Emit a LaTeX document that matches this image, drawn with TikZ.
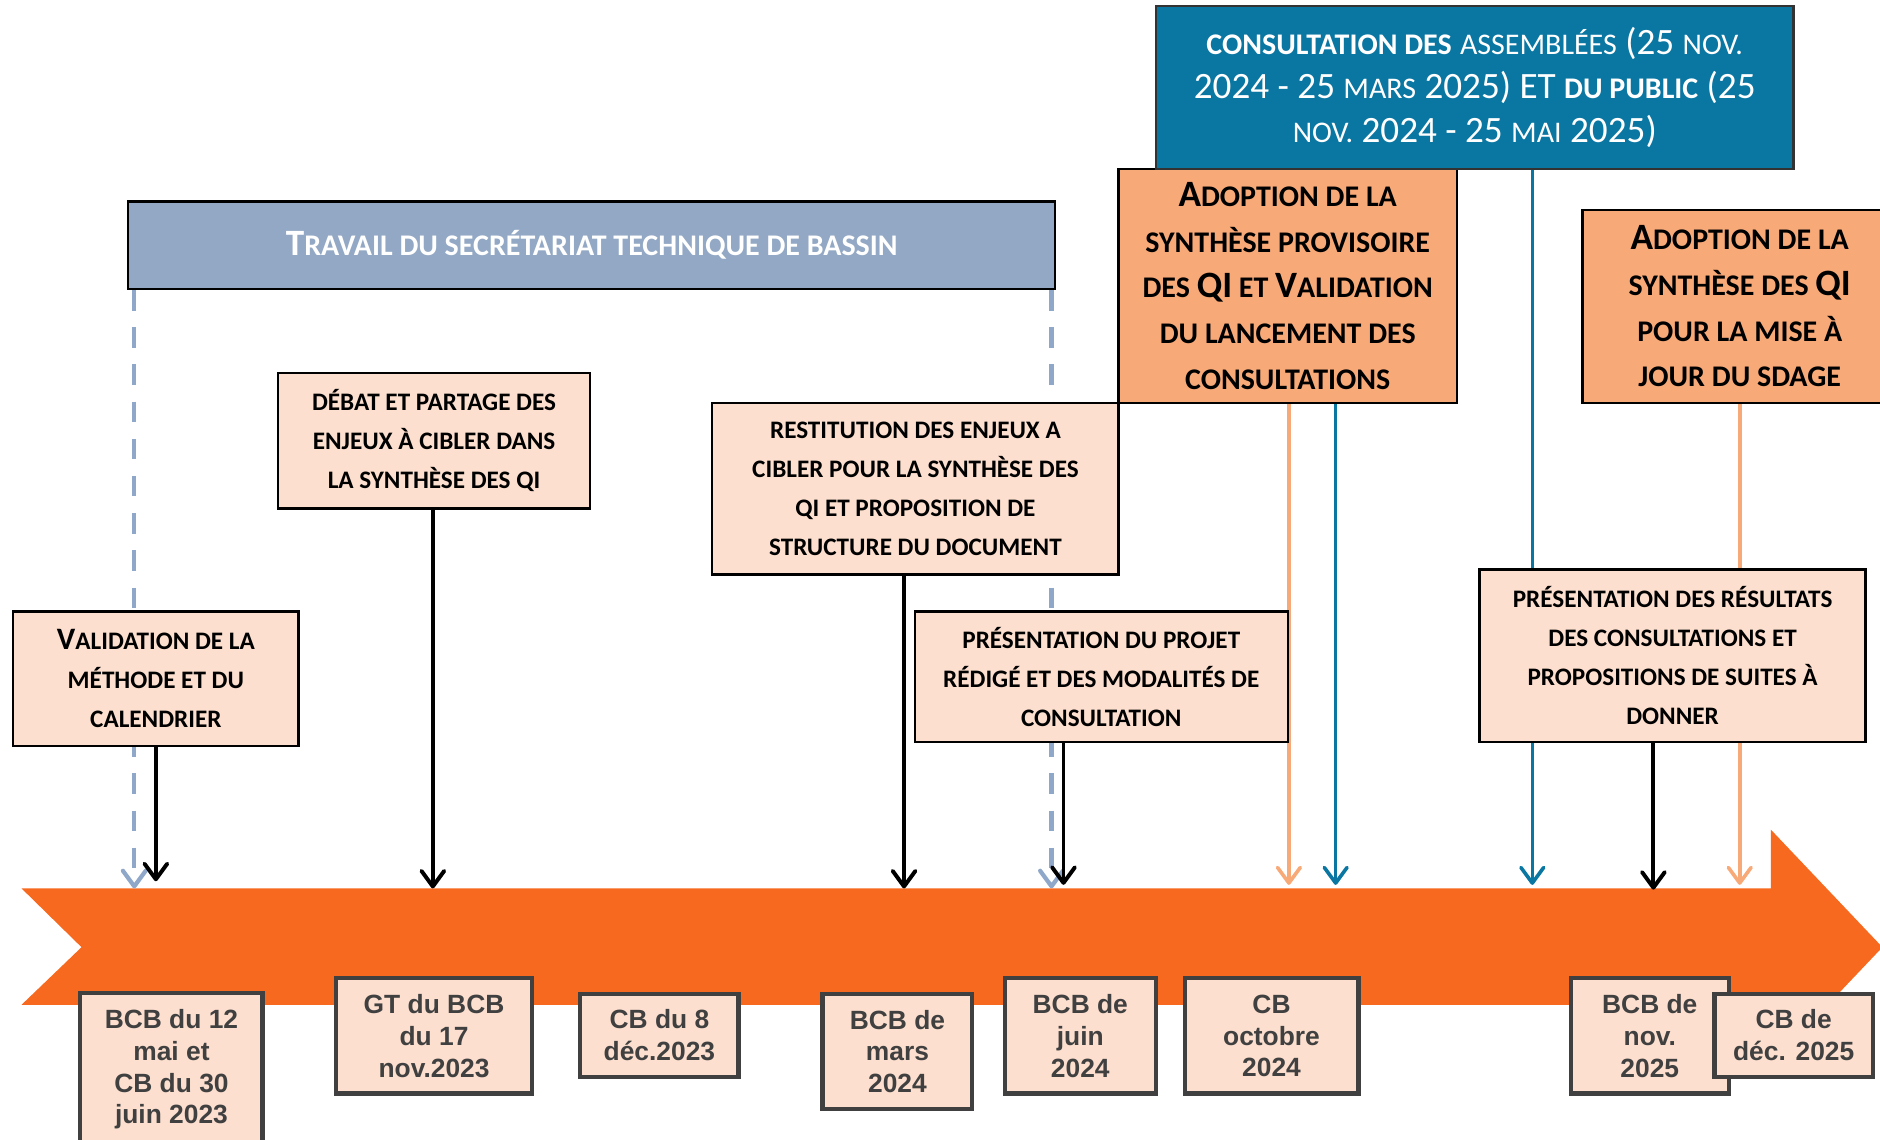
\documentclass[tikz,border=0pt]{standalone}
\usepackage{fontspec}
\setmainfont{Carlito}
\newfontfamily\arialf{Liberation Sans}
\usetikzlibrary{arrows.meta}
\definecolor{peach}{HTML}{FCDFCF}
\definecolor{salmon}{HTML}{F8A978}
\definecolor{tlorange}{HTML}{F7691E}
\definecolor{consblue}{HTML}{0A76A2}
\definecolor{travblue}{HTML}{93A8C4}
\definecolor{dashblue}{HTML}{8FA8CA}
\definecolor{boxgray}{HTML}{404040}
\pgfdeclarelayer{bgzero}
\pgfdeclarelayer{bgone}
\pgfsetlayers{bgzero,bgone,main}
\newcommand\fz[2]{{\fontsize{#1}{#1}\selectfont #2}}
\tikzset{
  peachbox/.style={draw=black, line width=2pt, fill=peach, align=center, inner sep=0pt,
    font=\bfseries\fontsize{21}{32.5}\selectfont},
  adoptbox/.style={draw=black, line width=2pt, fill=salmon, align=center, inner sep=0pt,
    font=\bfseries\fontsize{25}{38}\selectfont},
  travbox/.style={draw=black, line width=2pt, fill=travblue, align=center, inner sep=0pt,
    text=white, font=\bfseries\fontsize{25}{30}\selectfont},
  consbox/.style={draw=black!80, line width=2pt, fill=consblue, align=center, inner sep=0pt,
    text=white, font=\fontsize{31}{36.5}\selectfont},
  datebox/.style={draw=boxgray, line width=3.5pt, fill=peach, align=center, inner sep=0pt,
    text=boxgray, font=\arialf\bfseries\fontsize{22}{26.5}\selectfont},
  arr/.style={line width=3.3pt, -{Straight Barb[length=13pt,width=19pt,round]}},
  carr/.style={line width=3pt, -{Straight Barb[length=13pt,width=19pt,round]}},
  dasharr/.style={dashblue, line width=3.5pt, dash pattern=on 17pt off 14pt,
    -{Straight Barb[length=13pt,width=19pt,round]}},
}
\begin{document}
\begin{tikzpicture}[x=1pt,y=-1pt]
\useasboundingbox (0,0) rectangle (1568,950);
% timeline arrow
\begin{pgfonlayer}{bgzero}
\fill[tlorange] (18,741) -- (1477,741) -- (1477,692) -- (1570,790) -- (1477,888)
  -- (1477,838) -- (18,838) -- (68,790) -- cycle;
\end{pgfonlayer}
% top boxes
\node[adoptbox, minimum width=282pt, minimum height=195pt] (ad1) at (1074,238.5)
  {\fz{31}{A}DOPTION DE LA\\SYNTHÈSE PROVISOIRE\\DES \fz{31}{QI} ET \fz{31}{V}ALIDATION\\DU LANCEMENT DES\\CONSULTATIONS};
\node[consbox, minimum width=532pt, minimum height=136pt] (cons) at (1230,73)
  {\textbf{\fz{25}{CONSULTATION DES}} \fz{25}{ASSEMBLÉES} (25 \fz{25}{NOV.}\\
   2024 - 25 \fz{25}{MARS} 2025) ET \textbf{\fz{25}{DU PUBLIC}} (25\\
   \fz{25}{NOV.} 2024 - 25 \fz{25}{MAI} 2025)};
\node[adoptbox, minimum width=262pt, minimum height=161pt] (ad2) at (1451,255.5)
  {\fz{31}{A}DOPTION DE LA\\SYNTHÈSE DES \fz{31}{QI}\\POUR LA MISE À\\JOUR DU SDAGE};
\node[travbox, minimum width=773pt, minimum height=73pt] (trav) at (493.5,204.5)
  {\fz{31}{T}RAVAIL DU SECRÉTARIAT TECHNIQUE DE BASSIN};
\node[peachbox, minimum width=238pt, minimum height=112pt] (valid) at (130,566)
  {\fz{26}{V}ALIDATION DE LA\\MÉTHODE ET DU\\CALENDRIER};
\node[peachbox, minimum width=260pt, minimum height=113pt] (debat) at (362,367.5)
  {DÉBAT ET PARTAGE DES\\ENJEUX À CIBLER DANS\\LA SYNTHÈSE DES QI};
\node[peachbox, minimum width=339pt, minimum height=143pt] (resti) at (763.5,407.5)
  {RESTITUTION DES ENJEUX A\\CIBLER POUR LA SYNTHÈSE DES\\QI ET PROPOSITION DE\\STRUCTURE DU DOCUMENT};
\node[peachbox, minimum width=311pt, minimum height=109pt] (pproj) at (918.5,564.5)
  {PRÉSENTATION DU PROJET\\RÉDIGÉ ET DES MODALITÉS DE\\CONSULTATION};
\node[peachbox, minimum width=322pt, minimum height=144pt] (pres) at (1395,547)
  {PRÉSENTATION DES RÉSULTATS\\DES CONSULTATIONS ET\\PROPOSITIONS DE SUITES À\\DONNER};
% date boxes
\node[datebox, minimum width=152pt, minimum height=128pt] (b1) at (143,892)
  {BCB du 12\\mai et\\CB du 30\\juin 2023};
\node[datebox, minimum width=164pt, minimum height=96pt] (b2) at (362,864)
  {GT du BCB\\du 17\\nov.2023};
\node[datebox, minimum width=132pt, minimum height=69pt] (b3) at (550,863.5)
  {CB du 8\\déc.2023};
\node[datebox, minimum width=125pt, minimum height=96pt] (b4) at (748.5,877)
  {BCB de\\mars\\2024};
\node[datebox, minimum width=126pt, minimum height=96pt] (b5) at (901,864)
  {BCB de\\juin\\2024};
\node[datebox, minimum width=145pt, minimum height=96pt] (b6) at (1060.5,864)
  {CB\\octobre\\2024};
\node[datebox, minimum width=132pt, minimum height=96pt] (b7) at (1376,864)
  {BCB de\\nov.\\2025};
\node[datebox, minimum width=132pt, minimum height=69pt] (b8) at (1496,863.5)
  {CB de\\déc. 2025};
% timeline anchor points
\coordinate (tA) at (112,741);
\coordinate (tB) at (877,741);
\coordinate (t1) at (130,735);
\coordinate (t2) at (361,741);
\coordinate (t3) at (754,741);
\coordinate (t4) at (887,738);
\coordinate (t5) at (1075,738);
\coordinate (t6) at (1114,738);
\coordinate (t7) at (1278,738);
\coordinate (t8) at (1379,742);
\coordinate (t9) at (1451,738);
% connectors
\begin{pgfonlayer}{bgone}
\draw[dasharr] (trav.south -| tA) -- (tA);
\draw[dasharr] (trav.south -| tB) -- (tB);
\draw[arr, black] (valid.south) -- (t1);
\draw[arr, black] (debat.south -| t2) -- (t2);
\draw[arr, black] (resti.south -| t3) -- (t3);
\draw[arr, black] (pproj.south -| t4) -- (t4);
\draw[carr, salmon] (ad1.south -| t5) -- (t5);
\draw[carr, consblue] (ad1.south -| t6) -- (t6);
\draw[carr, consblue] (cons.south -| t7) -- (t7);
\draw[arr, black] (pres.south -| t8) -- (t8);
\draw[carr, salmon] (ad2.south -| t9) -- (t9);
\end{pgfonlayer}
\end{tikzpicture}
\end{document}
